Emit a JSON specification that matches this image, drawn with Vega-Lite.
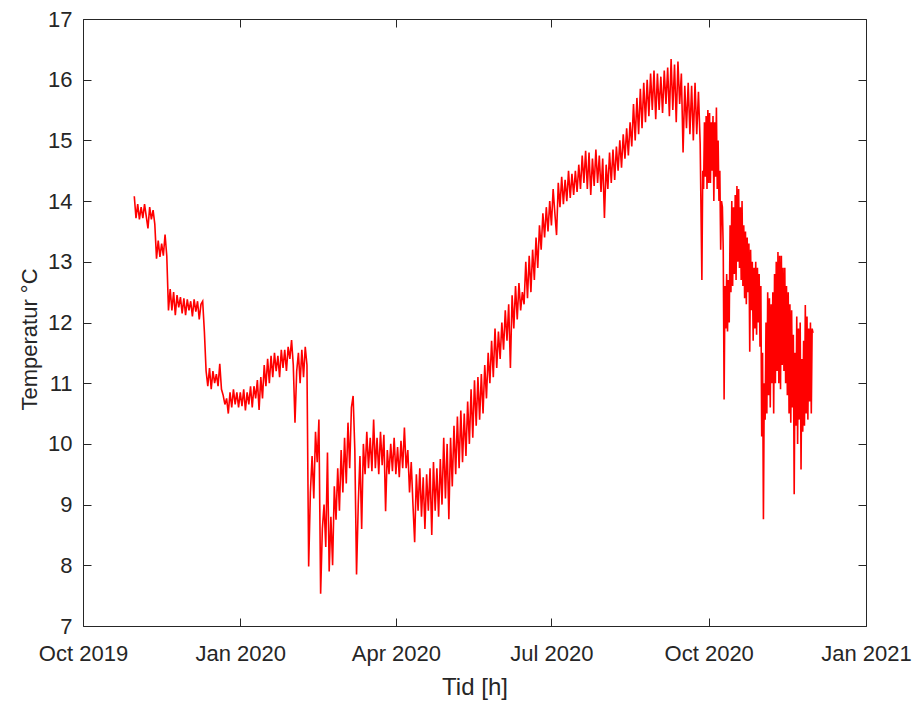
{
"$schema": "https://vega.github.io/schema/vega-lite/v6.json",
"width": 783, "height": 607,
"autosize": {"type": "none"},
"padding": {"left": 83, "top": 19, "right": 50, "bottom": 76},
"background": "white",
"config": {"view": {"stroke": "#262626", "strokeWidth": 1}, "font": "Liberation Sans"},
"data": {"values": [
{"t":"2019-10-31","v":14.08},
{"t":"2019-11-01","v":13.72},{"t":"2019-11-02","v":13.95},{"t":"2019-11-03","v":13.7},{"t":"2019-11-04","v":13.9},{"t":"2019-11-05","v":13.72},{"t":"2019-11-06","v":13.95},{"t":"2019-11-07","v":13.75},{"t":"2019-11-08","v":13.55},{"t":"2019-11-09","v":13.9},{"t":"2019-11-10","v":13.7},
{"t":"2019-11-11","v":13.85},{"t":"2019-11-12","v":13.62},{"t":"2019-11-13","v":13.05},{"t":"2019-11-14","v":13.35},{"t":"2019-11-15","v":13.08},{"t":"2019-11-16","v":13.3},{"t":"2019-11-17","v":13.1},{"t":"2019-11-18","v":13.45},{"t":"2019-11-19","v":13.1},{"t":"2019-11-20","v":12.2},
{"t":"2019-11-21","v":12.55},{"t":"2019-11-22","v":12.2},{"t":"2019-11-23","v":12.5},{"t":"2019-11-24","v":12.12},{"t":"2019-11-25","v":12.45},{"t":"2019-11-26","v":12.25},{"t":"2019-11-27","v":12.42},{"t":"2019-11-28","v":12.15},{"t":"2019-11-29","v":12.4},{"t":"2019-11-30","v":12.12},
{"t":"2019-12-01","v":12.38},{"t":"2019-12-02","v":12.2},{"t":"2019-12-03","v":12.35},{"t":"2019-12-04","v":12.1},{"t":"2019-12-05","v":12.38},{"t":"2019-12-06","v":12.18},{"t":"2019-12-07","v":12.35},{"t":"2019-12-08","v":12.05},{"t":"2019-12-09","v":12.3},{"t":"2019-12-10","v":12.35},
{"t":"2019-12-11","v":11.85},{"t":"2019-12-12","v":11.2},{"t":"2019-12-13","v":10.95},{"t":"2019-12-14","v":11.25},{"t":"2019-12-15","v":10.9},{"t":"2019-12-16","v":11.2},{"t":"2019-12-17","v":11.0},{"t":"2019-12-18","v":11.15},{"t":"2019-12-19","v":10.95},{"t":"2019-12-20","v":11.32},
{"t":"2019-12-21","v":10.9},{"t":"2019-12-22","v":10.8},{"t":"2019-12-23","v":10.65},{"t":"2019-12-24","v":10.75},{"t":"2019-12-25","v":10.5},{"t":"2019-12-26","v":10.85},{"t":"2019-12-27","v":10.6},{"t":"2019-12-28","v":10.9},{"t":"2019-12-29","v":10.65},{"t":"2019-12-30","v":10.85},{"t":"2019-12-31","v":10.6},
{"t":"2020-01-01","v":10.85},{"t":"2020-01-02","v":10.62},{"t":"2020-01-03","v":10.9},{"t":"2020-01-04","v":10.55},{"t":"2020-01-05","v":10.85},{"t":"2020-01-06","v":10.65},{"t":"2020-01-07","v":10.95},{"t":"2020-01-08","v":10.6},{"t":"2020-01-09","v":10.95},{"t":"2020-01-10","v":10.75},
{"t":"2020-01-11","v":11.05},{"t":"2020-01-12","v":10.56},{"t":"2020-01-13","v":11.1},{"t":"2020-01-14","v":10.75},{"t":"2020-01-15","v":11.3},{"t":"2020-01-16","v":10.95},{"t":"2020-01-17","v":11.4},{"t":"2020-01-18","v":11.0},{"t":"2020-01-19","v":11.45},{"t":"2020-01-20","v":11.1},
{"t":"2020-01-21","v":11.5},{"t":"2020-01-22","v":11.2},{"t":"2020-01-23","v":11.45},{"t":"2020-01-24","v":11.1},{"t":"2020-01-25","v":11.55},{"t":"2020-01-26","v":11.25},{"t":"2020-01-27","v":11.55},{"t":"2020-01-28","v":11.2},{"t":"2020-01-29","v":11.6},{"t":"2020-01-30","v":11.4},{"t":"2020-01-31","v":11.71},
{"t":"2020-02-01","v":11.3},{"t":"2020-02-02","v":10.35},{"t":"2020-02-03","v":11.2},{"t":"2020-02-04","v":11.5},{"t":"2020-02-05","v":11.0},{"t":"2020-02-06","v":11.55},{"t":"2020-02-07","v":11.1},{"t":"2020-02-08","v":11.6},{"t":"2020-02-09","v":11.3},{"t":"2020-02-10","v":7.98},
{"t":"2020-02-11","v":9.2},{"t":"2020-02-12","v":9.8},{"t":"2020-02-13","v":9.1},{"t":"2020-02-14","v":10.2},{"t":"2020-02-15","v":9.7},{"t":"2020-02-16","v":10.4},{"t":"2020-02-17","v":7.53},{"t":"2020-02-18","v":8.6},{"t":"2020-02-19","v":9.0},{"t":"2020-02-20","v":8.3},
{"t":"2020-02-21","v":9.86},{"t":"2020-02-22","v":7.9},{"t":"2020-02-23","v":8.8},{"t":"2020-02-24","v":8.0},{"t":"2020-02-25","v":9.3},{"t":"2020-02-26","v":8.75},{"t":"2020-02-27","v":9.6},{"t":"2020-02-28","v":8.9},{"t":"2020-02-29","v":9.9},
{"t":"2020-03-01","v":9.2},{"t":"2020-03-02","v":10.1},{"t":"2020-03-03","v":9.35},{"t":"2020-03-04","v":10.35},{"t":"2020-03-05","v":9.6},{"t":"2020-03-06","v":10.6},{"t":"2020-03-07","v":10.79},{"t":"2020-03-08","v":9.9},{"t":"2020-03-09","v":7.85},{"t":"2020-03-10","v":9.0},
{"t":"2020-03-11","v":9.8},{"t":"2020-03-12","v":8.6},{"t":"2020-03-13","v":10.0},{"t":"2020-03-14","v":9.5},{"t":"2020-03-15","v":10.2},{"t":"2020-03-16","v":9.6},{"t":"2020-03-17","v":10.1},{"t":"2020-03-18","v":9.55},{"t":"2020-03-19","v":10.4},{"t":"2020-03-20","v":9.6},
{"t":"2020-03-21","v":10.1},{"t":"2020-03-22","v":9.5},{"t":"2020-03-23","v":10.2},{"t":"2020-03-24","v":9.65},{"t":"2020-03-25","v":10.15},{"t":"2020-03-26","v":8.89},{"t":"2020-03-27","v":9.9},{"t":"2020-03-28","v":9.5},{"t":"2020-03-29","v":10.0},{"t":"2020-03-30","v":9.55},{"t":"2020-03-31","v":10.1},
{"t":"2020-04-01","v":9.5},{"t":"2020-04-02","v":9.95},{"t":"2020-04-03","v":9.45},{"t":"2020-04-04","v":10.05},{"t":"2020-04-05","v":9.6},{"t":"2020-04-06","v":10.27},{"t":"2020-04-07","v":9.6},{"t":"2020-04-08","v":9.9},{"t":"2020-04-09","v":9.2},{"t":"2020-04-10","v":9.7},
{"t":"2020-04-11","v":9.0},{"t":"2020-04-12","v":8.38},{"t":"2020-04-13","v":9.5},{"t":"2020-04-14","v":8.9},{"t":"2020-04-15","v":9.6},{"t":"2020-04-16","v":8.8},{"t":"2020-04-17","v":9.45},{"t":"2020-04-18","v":8.6},{"t":"2020-04-19","v":9.5},{"t":"2020-04-20","v":8.9},
{"t":"2020-04-21","v":9.6},{"t":"2020-04-22","v":8.5},{"t":"2020-04-23","v":9.7},{"t":"2020-04-24","v":8.9},{"t":"2020-04-25","v":9.6},{"t":"2020-04-26","v":8.8},{"t":"2020-04-27","v":9.75},{"t":"2020-04-28","v":9.0},{"t":"2020-04-29","v":10.1},{"t":"2020-04-30","v":9.1},
{"t":"2020-05-01","v":10.0},{"t":"2020-05-02","v":8.76},{"t":"2020-05-03","v":10.1},{"t":"2020-05-04","v":9.3},{"t":"2020-05-05","v":10.3},{"t":"2020-05-06","v":9.5},{"t":"2020-05-07","v":10.45},{"t":"2020-05-08","v":9.6},{"t":"2020-05-09","v":10.55},{"t":"2020-05-10","v":9.7},
{"t":"2020-05-11","v":10.5},{"t":"2020-05-12","v":9.8},{"t":"2020-05-13","v":10.7},{"t":"2020-05-14","v":10.0},{"t":"2020-05-15","v":10.9},{"t":"2020-05-16","v":10.1},{"t":"2020-05-17","v":11.05},{"t":"2020-05-18","v":10.3},{"t":"2020-05-19","v":11.1},{"t":"2020-05-20","v":10.4},
{"t":"2020-05-21","v":11.15},{"t":"2020-05-22","v":10.5},{"t":"2020-05-23","v":11.3},{"t":"2020-05-24","v":10.75},{"t":"2020-05-25","v":11.5},{"t":"2020-05-26","v":11.0},{"t":"2020-05-27","v":11.7},{"t":"2020-05-28","v":11.1},{"t":"2020-05-29","v":11.9},{"t":"2020-05-30","v":11.25},{"t":"2020-05-31","v":11.85},
{"t":"2020-06-01","v":11.4},{"t":"2020-06-02","v":12.0},{"t":"2020-06-03","v":11.55},{"t":"2020-06-04","v":12.2},{"t":"2020-06-05","v":11.7},{"t":"2020-06-06","v":12.3},{"t":"2020-06-07","v":11.25},{"t":"2020-06-08","v":12.45},{"t":"2020-06-09","v":11.9},{"t":"2020-06-10","v":12.6},
{"t":"2020-06-11","v":12.05},{"t":"2020-06-12","v":12.65},{"t":"2020-06-13","v":12.2},{"t":"2020-06-14","v":12.5},{"t":"2020-06-15","v":12.3},{"t":"2020-06-16","v":13.0},{"t":"2020-06-17","v":12.4},{"t":"2020-06-18","v":13.1},{"t":"2020-06-19","v":12.5},{"t":"2020-06-20","v":13.2},
{"t":"2020-06-21","v":12.7},{"t":"2020-06-22","v":13.4},{"t":"2020-06-23","v":12.9},{"t":"2020-06-24","v":13.6},{"t":"2020-06-25","v":13.2},{"t":"2020-06-26","v":13.8},{"t":"2020-06-27","v":13.4},{"t":"2020-06-28","v":13.9},{"t":"2020-06-29","v":13.5},{"t":"2020-06-30","v":14.0},
{"t":"2020-07-01","v":13.6},{"t":"2020-07-02","v":14.2},{"t":"2020-07-03","v":13.8},{"t":"2020-07-04","v":13.44},{"t":"2020-07-05","v":14.3},{"t":"2020-07-06","v":13.9},{"t":"2020-07-07","v":14.4},{"t":"2020-07-08","v":13.95},{"t":"2020-07-09","v":14.35},{"t":"2020-07-10","v":14.0},
{"t":"2020-07-11","v":14.5},{"t":"2020-07-12","v":14.05},{"t":"2020-07-13","v":14.45},{"t":"2020-07-14","v":14.1},{"t":"2020-07-15","v":14.5},{"t":"2020-07-16","v":14.15},{"t":"2020-07-17","v":14.6},{"t":"2020-07-18","v":14.2},{"t":"2020-07-19","v":14.75},{"t":"2020-07-20","v":14.3},
{"t":"2020-07-21","v":14.83},{"t":"2020-07-22","v":14.2},{"t":"2020-07-23","v":14.8},{"t":"2020-07-24","v":14.1},{"t":"2020-07-25","v":14.7},{"t":"2020-07-26","v":14.25},{"t":"2020-07-27","v":14.85},{"t":"2020-07-28","v":14.3},{"t":"2020-07-29","v":14.75},{"t":"2020-07-30","v":14.15},{"t":"2020-07-31","v":14.7},
{"t":"2020-08-01","v":13.72},{"t":"2020-08-02","v":14.6},{"t":"2020-08-03","v":14.2},{"t":"2020-08-04","v":14.8},{"t":"2020-08-05","v":14.3},{"t":"2020-08-06","v":14.85},{"t":"2020-08-07","v":14.35},{"t":"2020-08-08","v":14.9},{"t":"2020-08-09","v":14.5},{"t":"2020-08-10","v":15.0},
{"t":"2020-08-11","v":14.55},{"t":"2020-08-12","v":15.1},{"t":"2020-08-13","v":14.7},{"t":"2020-08-14","v":15.2},{"t":"2020-08-15","v":14.75},{"t":"2020-08-16","v":15.3},{"t":"2020-08-17","v":14.9},{"t":"2020-08-18","v":15.6},{"t":"2020-08-19","v":15.0},{"t":"2020-08-20","v":15.7},
{"t":"2020-08-21","v":15.1},{"t":"2020-08-22","v":15.85},{"t":"2020-08-23","v":15.2},{"t":"2020-08-24","v":15.95},{"t":"2020-08-25","v":15.3},{"t":"2020-08-26","v":16.0},{"t":"2020-08-27","v":15.4},{"t":"2020-08-28","v":16.1},{"t":"2020-08-29","v":15.5},{"t":"2020-08-30","v":16.15},{"t":"2020-08-31","v":15.35},
{"t":"2020-09-01","v":16.1},{"t":"2020-09-02","v":15.5},{"t":"2020-09-03","v":16.05},{"t":"2020-09-04","v":15.45},{"t":"2020-09-05","v":16.15},{"t":"2020-09-06","v":15.6},{"t":"2020-09-07","v":16.2},{"t":"2020-09-08","v":15.4},{"t":"2020-09-09","v":16.34},{"t":"2020-09-10","v":15.5},
{"t":"2020-09-11","v":16.25},{"t":"2020-09-12","v":15.3},{"t":"2020-09-13","v":16.3},{"t":"2020-09-14","v":15.6},{"t":"2020-09-15","v":16.1},{"t":"2020-09-16","v":14.8},{"t":"2020-09-17","v":15.9},{"t":"2020-09-18","v":15.2},{"t":"2020-09-19","v":15.95},{"t":"2020-09-20","v":15.1},
{"t":"2020-09-21","v":15.9},{"t":"2020-09-22","v":15.0},{"t":"2020-09-23","v":15.95},{"t":"2020-09-24","v":15.1},{"t":"2020-09-25","v":15.8},{"t":"2020-09-26","v":14.95},
{"t":"2020-09-27T00:00","v":12.7},{"t":"2020-09-27T12:00","v":14.5},{"t":"2020-09-28T00:00","v":14.2},{"t":"2020-09-28T12:00","v":15.3},{"t":"2020-09-29T00:00","v":14.4},{"t":"2020-09-29T12:00","v":15.4},{"t":"2020-09-30T00:00","v":14.2},{"t":"2020-09-30T12:00","v":15.5},
{"t":"2020-10-01T00:00","v":14.3},{"t":"2020-10-01T12:00","v":15.45},{"t":"2020-10-02T00:00","v":14.3},{"t":"2020-10-02T12:00","v":15.3},{"t":"2020-10-03T00:00","v":14.5},{"t":"2020-10-03T12:00","v":15.4},{"t":"2020-10-04T00:00","v":14.0},{"t":"2020-10-04T12:00","v":15.3},
{"t":"2020-10-05T00:00","v":14.4},{"t":"2020-10-05T12:00","v":15.54},{"t":"2020-10-06T00:00","v":14.2},{"t":"2020-10-06T12:00","v":15.0},{"t":"2020-10-07T00:00","v":14.0},{"t":"2020-10-07T12:00","v":14.5},{"t":"2020-10-08T00:00","v":13.2},{"t":"2020-10-08T12:00","v":14.0},
{"t":"2020-10-09T00:00","v":13.9},{"t":"2020-10-09T12:00","v":13.2},{"t":"2020-10-10T00:00","v":10.73},{"t":"2020-10-10T12:00","v":12.6},{"t":"2020-10-11T00:00","v":11.9},{"t":"2020-10-11T12:00","v":12.8},{"t":"2020-10-12T00:00","v":11.85},{"t":"2020-10-12T12:00","v":12.7},
{"t":"2020-10-13T00:00","v":12.0},{"t":"2020-10-13T12:00","v":13.6},{"t":"2020-10-14T00:00","v":12.5},{"t":"2020-10-14T12:00","v":14.0},{"t":"2020-10-15T00:00","v":12.6},{"t":"2020-10-15T12:00","v":13.9},{"t":"2020-10-16T00:00","v":12.8},{"t":"2020-10-16T12:00","v":14.1},
{"t":"2020-10-17T00:00","v":12.7},{"t":"2020-10-17T12:00","v":14.25},{"t":"2020-10-18T00:00","v":13.0},{"t":"2020-10-18T12:00","v":14.2},{"t":"2020-10-19T00:00","v":12.9},{"t":"2020-10-19T12:00","v":13.9},{"t":"2020-10-20T00:00","v":12.7},{"t":"2020-10-20T12:00","v":14.0},
{"t":"2020-10-21T00:00","v":12.6},{"t":"2020-10-21T12:00","v":13.6},{"t":"2020-10-22T00:00","v":12.4},{"t":"2020-10-22T12:00","v":13.5},{"t":"2020-10-23T00:00","v":12.3},{"t":"2020-10-23T12:00","v":13.4},{"t":"2020-10-24T00:00","v":12.5},{"t":"2020-10-24T12:00","v":13.3},
{"t":"2020-10-25T00:00","v":11.52},{"t":"2020-10-25T12:00","v":13.2},{"t":"2020-10-26T00:00","v":12.2},{"t":"2020-10-26T12:00","v":13.0},{"t":"2020-10-27T00:00","v":11.7},{"t":"2020-10-27T12:00","v":12.9},{"t":"2020-10-28T00:00","v":11.9},{"t":"2020-10-28T12:00","v":13.0},
{"t":"2020-10-29T00:00","v":11.8},{"t":"2020-10-29T12:00","v":12.9},{"t":"2020-10-30T00:00","v":12.0},{"t":"2020-10-30T12:00","v":12.8},{"t":"2020-10-31T00:00","v":11.6},{"t":"2020-10-31T12:00","v":12.6},
{"t":"2020-11-01T00:00","v":10.12},{"t":"2020-11-01T12:00","v":11.5},{"t":"2020-11-02T00:00","v":8.76},{"t":"2020-11-02T12:00","v":11.0},{"t":"2020-11-03T00:00","v":10.4},{"t":"2020-11-03T12:00","v":12.0},{"t":"2020-11-04T00:00","v":10.5},{"t":"2020-11-04T12:00","v":12.5},
{"t":"2020-11-05T00:00","v":10.8},{"t":"2020-11-05T12:00","v":12.4},{"t":"2020-11-06T00:00","v":10.6},{"t":"2020-11-06T12:00","v":12.3},{"t":"2020-11-07T00:00","v":11.0},{"t":"2020-11-07T12:00","v":12.5},{"t":"2020-11-08T00:00","v":10.5},{"t":"2020-11-08T12:00","v":12.8},
{"t":"2020-11-09T00:00","v":11.0},{"t":"2020-11-09T12:00","v":13.0},{"t":"2020-11-10T00:00","v":11.2},{"t":"2020-11-10T12:00","v":13.16},{"t":"2020-11-11T00:00","v":11.0},{"t":"2020-11-11T12:00","v":13.1},{"t":"2020-11-12T00:00","v":10.9},{"t":"2020-11-12T12:00","v":13.1},
{"t":"2020-11-13T00:00","v":11.3},{"t":"2020-11-13T12:00","v":12.9},{"t":"2020-11-14T00:00","v":11.2},{"t":"2020-11-14T12:00","v":12.9},{"t":"2020-11-15T00:00","v":11.0},{"t":"2020-11-15T12:00","v":12.6},{"t":"2020-11-16T00:00","v":10.8},{"t":"2020-11-16T12:00","v":12.5},
{"t":"2020-11-17T00:00","v":10.5},{"t":"2020-11-17T12:00","v":12.3},{"t":"2020-11-18T00:00","v":10.35},{"t":"2020-11-18T12:00","v":12.2},{"t":"2020-11-19T00:00","v":10.6},{"t":"2020-11-19T12:00","v":11.8},{"t":"2020-11-20T00:00","v":9.17},{"t":"2020-11-20T12:00","v":11.5},
{"t":"2020-11-21T00:00","v":10.3},{"t":"2020-11-21T12:00","v":12.1},{"t":"2020-11-22T00:00","v":10.0},{"t":"2020-11-22T12:00","v":11.9},{"t":"2020-11-23T00:00","v":10.4},{"t":"2020-11-23T12:00","v":12.0},{"t":"2020-11-24T00:00","v":9.58},{"t":"2020-11-24T12:00","v":11.4},
{"t":"2020-11-25T00:00","v":10.2},{"t":"2020-11-25T12:00","v":11.7},{"t":"2020-11-26T00:00","v":10.3},{"t":"2020-11-26T12:00","v":12.29},{"t":"2020-11-27T00:00","v":10.5},{"t":"2020-11-27T12:00","v":12.1},{"t":"2020-11-28T00:00","v":10.4},{"t":"2020-11-28T12:00","v":11.9},
{"t":"2020-11-29T00:00","v":10.7},{"t":"2020-11-29T12:00","v":12.0},{"t":"2020-11-30T00:00","v":10.5},{"t":"2020-11-30T12:00","v":11.9},{"t":"2020-12-01T00:00","v":11.83}
]},
"layer": [
{
"mark": {"type": "line", "color": "#ff0000", "strokeWidth": 1.6},
"encoding": {
"x": {"field": "t", "type": "temporal",
"scale": {"type": "utc", "domain": [{"year": 2019, "month": 10, "date": 1, "utc": true}, {"year": 2021, "month": 1, "date": 1, "utc": true}]},
"axis": {"orient": "bottom", "values": [{"year": 2019, "month": 10, "date": 1, "utc": true}, {"year": 2020, "month": 1, "date": 1, "utc": true}, {"year": 2020, "month": 4, "date": 1, "utc": true}, {"year": 2020, "month": 7, "date": 1, "utc": true}, {"year": 2020, "month": 10, "date": 1, "utc": true}, {"year": 2021, "month": 1, "date": 1, "utc": true}],
"format": "%b %Y", "title": "Tid [h]", "grid": false, "domain": false,
"tickSize": -8, "tickColor": "#262626", "tickWidth": 1,
"labelFontSize": 22, "labelColor": "#262626", "labelPadding": 25, "labelFlush": false, "labelOverlap": false, "labelFont": "Liberation Sans",
"titleFontSize": 24, "titleFontWeight": "normal", "titleColor": "#262626", "titleFont": "Liberation Sans", "titleBaseline": "alphabetic", "titleY": 68}},
"y": {"field": "v", "type": "quantitative",
"scale": {"domain": [7, 17], "nice": false, "zero": false},
"axis": {"orient": "left", "values": [7, 8, 9, 10, 11, 12, 13, 14, 15, 16, 17], "title": "Temperatur °C", "grid": false, "domain": false,
"tickSize": -8, "tickColor": "#262626", "tickWidth": 1,
"labelFontSize": 22, "labelColor": "#262626", "labelPadding": 19, "labelFont": "Liberation Sans", "labelOverlap": false, "labelFlush": false,
"titleFontSize": 22, "titleFontWeight": "normal", "titleColor": "#262626", "titleFont": "Liberation Sans", "titleBaseline": "alphabetic", "titleX": -47, "titleY": 320, "titleAngle": -90}}
}
},
{
"mark": {"type": "line", "opacity": 0},
"encoding": {
"x": {"field": "t", "type": "temporal",
"axis": {"orient": "top", "values": [{"year": 2019, "month": 10, "date": 1, "utc": true}, {"year": 2020, "month": 1, "date": 1, "utc": true}, {"year": 2020, "month": 4, "date": 1, "utc": true}, {"year": 2020, "month": 7, "date": 1, "utc": true}, {"year": 2020, "month": 10, "date": 1, "utc": true}, {"year": 2021, "month": 1, "date": 1, "utc": true}],
"labels": false, "title": null, "grid": false, "domain": false, "tickSize": -8, "tickColor": "#262626", "tickWidth": 1}},
"y": {"field": "v", "type": "quantitative",
"axis": {"orient": "right", "values": [7, 8, 9, 10, 11, 12, 13, 14, 15, 16, 17], "labels": false, "title": null, "grid": false, "domain": false, "tickSize": -8, "tickColor": "#262626", "tickWidth": 1}}
}
}
],
"resolve": {"axis": {"x": "independent", "y": "independent"}}
}
